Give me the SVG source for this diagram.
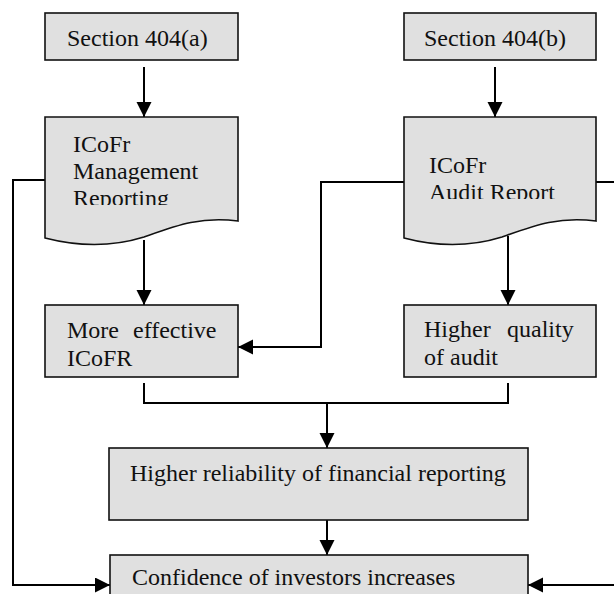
<svg xmlns="http://www.w3.org/2000/svg" width="614" height="594" viewBox="0 0 614 594">
<style>
.box{fill:#e0e0e0;stroke:#111;stroke-width:1.6}
.t{font-family:"Liberation Serif","Times New Roman",serif;font-size:24px;fill:#111}
.c{fill:none;stroke:#000;stroke-width:2}
</style>
<defs>
<marker id="ah" markerUnits="userSpaceOnUse" markerWidth="16" markerHeight="16" refX="15" refY="7.5" orient="auto">
<path d="M0,0 L15,7.5 L0,15 Z" fill="#000"/>
</marker>
<clipPath id="c1"><rect x="45" y="117" width="193" height="88"/></clipPath>
<clipPath id="c2"><rect x="404" y="117" width="192" height="82"/></clipPath>
</defs>
<rect width="614" height="594" fill="#fff"/>
<g id="connectors">
<path class="c" d="M144,67 V117" marker-end="url(#ah)"/>
<path class="c" d="M495,67 V117" marker-end="url(#ah)"/>
<path class="c" d="M144,240 V305" marker-end="url(#ah)"/>
<path class="c" d="M508,236 V305" marker-end="url(#ah)"/>
<path class="c" d="M45,180 H13 V585 H110" marker-end="url(#ah)"/>
<path class="c" d="M404,182 H321 V347 H238" marker-end="url(#ah)"/>
<path class="c" d="M596,182 H614"/>
<path class="c" d="M614,585 H528" marker-end="url(#ah)"/>
<path class="c" d="M144,383 V403 H508 V383"/>
<path class="c" d="M327,403 V448" marker-end="url(#ah)"/>
<path class="c" d="M327,503 V555" marker-end="url(#ah)"/>
</g>
<g id="sec404a">
<rect class="box" x="45" y="13" width="193" height="47"/>
<text class="t" x="67" y="46">Section 404(a)</text>
</g>
<g id="sec404b">
<rect class="box" x="404" y="13" width="192" height="47"/>
<text class="t" x="424" y="46">Section 404(b)</text>
</g>
<g id="mgmt">
<path class="box" d="M45,117 H238 V221 C200,216 175,226 144,237 C112,247 80,247 45,238 Z"/>
<g clip-path="url(#c1)">
<text class="t" x="73" y="152">ICoFr</text>
<text class="t" x="73" y="179">Management</text>
<text class="t" x="73" y="206">Reporting</text>
</g>
</g>
<g id="audit">
<path class="box" d="M404,117 H596 V221 C558,216 533,226 502,237 C470,247 438,247 404,238 Z"/>
<g clip-path="url(#c2)">
<text class="t" x="429" y="173">ICoFr</text>
<text class="t" x="429" y="200">Audit Report</text>
</g>
</g>
<g id="effective">
<rect class="box" x="45" y="305" width="193" height="72"/>
<text class="t" y="338"><tspan x="67">More</tspan><tspan x="133">effective</tspan></text>
<text class="t" x="67" y="366">ICoFR</text>
</g>
<g id="quality">
<rect class="box" x="404" y="305" width="192" height="72"/>
<text class="t" y="337"><tspan x="424">Higher</tspan><tspan x="507">quality</tspan></text>
<text class="t" x="424" y="365">of audit</text>
</g>
<g id="reliability">
<rect class="box" x="109" y="448" width="419" height="72"/>
<text class="t" x="130" y="481">Higher reliability of financial reporting</text>
</g>
<g id="confidence">
<rect class="box" x="110" y="555" width="418" height="60"/>
<text class="t" x="132" y="585">Confidence of investors increases</text>
</g>
</svg>
